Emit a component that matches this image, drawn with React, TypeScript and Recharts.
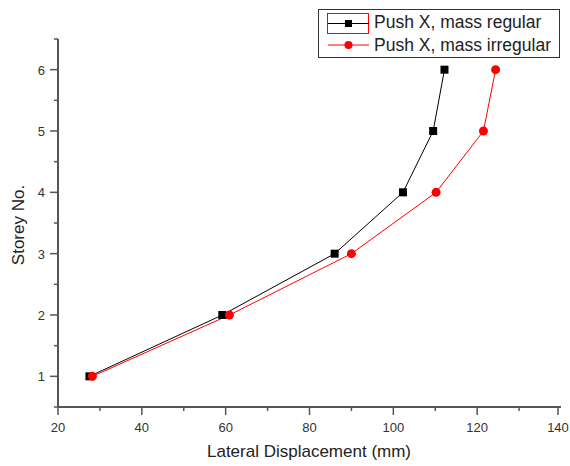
import { LineChart, Line, XAxis, YAxis } from "recharts";

const storeys = [1, 2, 3, 4, 5, 6];
const regularDisp = [27.5, 59.2, 86, 102.3, 109.5, 112.2];
const irregularDisp = [28.2, 60.9, 90, 110.2, 121.5, 124.4];

const xTicks = [20, 30, 40, 50, 60, 70, 80, 90, 100, 110, 120, 130, 140];
const yTicks = [0.5, 1, 1.5, 2, 2.5, 3, 3.5, 4, 4.5, 5, 5.5, 6, 6.5];

const regularData = storeys.map((s, i) => ({ x: regularDisp[i], y: s }));
const irregularData = storeys.map((s, i) => ({ x: irregularDisp[i], y: s }));

const AXIS = "#555";
const FONT = "'Liberation Sans', Arial, sans-serif";

const XTick = (props: any) => {
    const { x, y, payload } = props;
    const major = payload.value % 20 === 0;
    return (
        <g>
            <line x1={x} y1={y} x2={x} y2={y + (major ? 8 : 4)} stroke={AXIS} strokeWidth={1.5} />
            {major && (
                <text x={x} y={y + 25} textAnchor="middle" fontSize={13} fill="#333" fontFamily={FONT}>
                    {payload.value}
                </text>
            )}
        </g>
    );
};

const YTick = (props: any) => {
    const { x, y, payload } = props;
    const major = Number.isInteger(payload.value);
    return (
        <g>
            <line x1={x - (major ? 8 : 4)} y1={y} x2={x} y2={y} stroke={AXIS} strokeWidth={1.5} />
            {major && (
                <text x={x - 13} y={y + 5} textAnchor="end" fontSize={13} fill="#333" fontFamily={FONT}>
                    {payload.value}
                </text>
            )}
        </g>
    );
};

const Square = (props: any) => {
    const { cx, cy } = props;
    return <rect x={cx - 4} y={cy - 4} width={8} height={8} fill="#000" />;
};

const Dot = (props: any) => {
    const { cx, cy } = props;
    return <circle cx={cx} cy={cy} r={4.5} fill="#ff0000" />;
};

const LegendBox = () => (
    <div
        style={{
            position: "absolute",
            left: 318,
            top: 9,
            width: 242,
            height: 49,
            border: "1px solid #333",
            background: "#fff",
            fontFamily: FONT,
            fontSize: 17.5,
            color: "#222",
            boxSizing: "border-box",
        }}
    >
        <div style={{ display: "flex", alignItems: "center", height: 24 }}>
            <svg width={54} height={24}>
                <rect x={8.5} y={3.5} width={41} height={20} fill="none" stroke="#ff0000" />
                <line x1={9} y1={13.5} x2={50} y2={13.5} stroke="#000" />
                <rect x={26} y={10} width={7} height={7} fill="#000" />
            </svg>
            <span style={{ marginLeft: 1 }}>Push X, mass regular</span>
        </div>
        <div style={{ display: "flex", alignItems: "center", height: 22 }}>
            <svg width={54} height={22}>
                <line x1={9} y1={11} x2={50} y2={11} stroke="#ff0000" />
                <circle cx={29.5} cy={11} r={4} fill="#ff0000" />
            </svg>
            <span style={{ marginLeft: 1 }}>Push X, mass irregular</span>
        </div>
    </div>
);

export default function App() {
    return (
        <div style={{ position: "absolute", left: 0, top: 0, width: 570, height: 466, background: "#fff" }}>
            <LineChart width={570} height={466} margin={{ top: 39, right: 9, bottom: 29, left: 0 }}>
                <XAxis
                    type="number"
                    dataKey="x"
                    domain={[20, 140]}
                    ticks={xTicks}
                    tick={<XTick />}
                    tickLine={false}
                    tickSize={0}
                    tickMargin={0}
                    height={30}
                    stroke={AXIS}
                    strokeWidth={2}
                    allowDataOverflow
                />
                <YAxis
                    type="number"
                    dataKey="y"
                    domain={[0.5, 6.5]}
                    ticks={yTicks}
                    tick={<YTick />}
                    tickLine={false}
                    tickSize={0}
                    tickMargin={0}
                    width={58}
                    stroke={AXIS}
                    strokeWidth={2}
                    interval={0}
                    allowDataOverflow
                />
                <Line
                    data={regularData}
                    dataKey="y"
                    stroke="#000"
                    strokeWidth={1}
                    dot={<Square />}
                    isAnimationActive={false}
                />
                <Line
                    data={irregularData}
                    dataKey="y"
                    stroke="#ff0000"
                    strokeWidth={1}
                    dot={<Dot />}
                    isAnimationActive={false}
                />
                <text x={309} y={457} textAnchor="middle" fontSize={17} fill="#222" fontFamily={FONT}>
                    Lateral Displacement (mm)
                </text>
                <text
                    x={24}
                    y={225}
                    textAnchor="middle"
                    fontSize={17}
                    fill="#222"
                    fontFamily={FONT}
                    transform="rotate(-90 24 225)"
                >
                    Storey No.
                </text>
            </LineChart>
            <LegendBox />
        </div>
    );
}
